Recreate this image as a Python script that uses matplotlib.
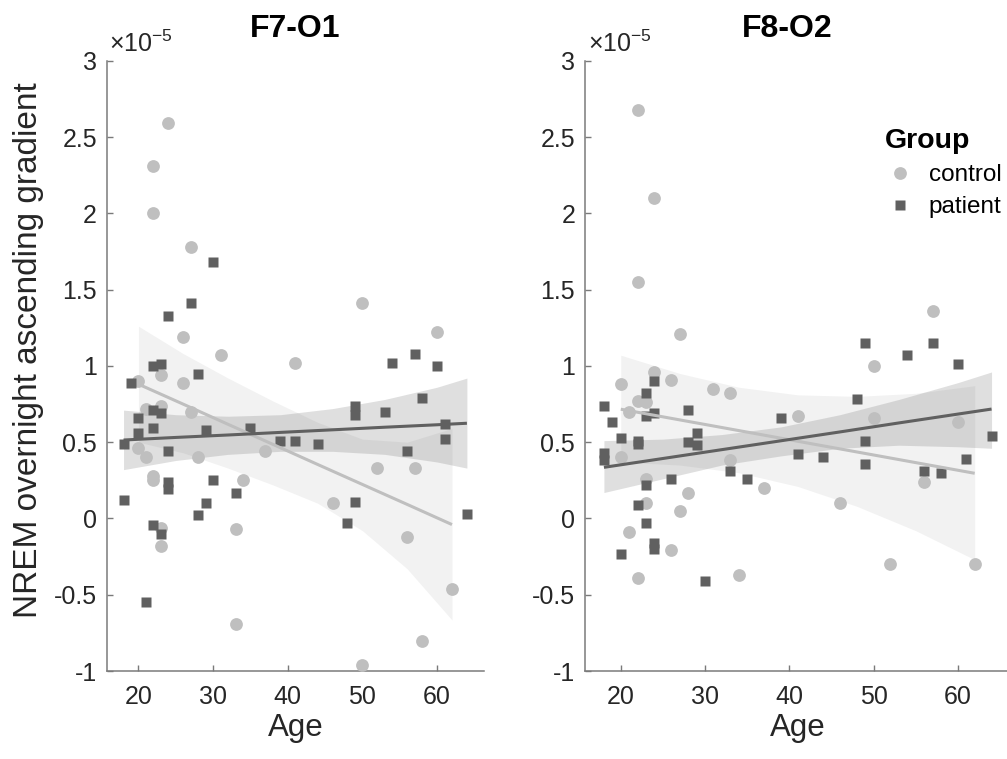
import numpy as np
import matplotlib
matplotlib.use("Agg")
import matplotlib.pyplot as plt
from matplotlib.ticker import FuncFormatter
from matplotlib.lines import Line2D

plt.rcParams['font.family'] = ['Liberation Sans', 'DejaVu Sans']
plt.rcParams['mathtext.fontset'] = 'custom'
plt.rcParams['mathtext.rm'] = 'Liberation Sans'
plt.rcParams['axes.unicode_minus'] = False

# values are in units of 1e-5
# --- F7-O1 ---
f7_ctrl_age = [24, 22, 22, 27, 26, 31, 41, 50, 60, 23, 20, 26, 21, 23, 27, 20, 21, 28,
               37, 52, 57, 22, 22, 34, 46, 56, 33, 23, 23, 62, 33, 58, 50]
f7_ctrl_val = [2.59, 2.31, 2.00, 1.78, 1.19, 1.07, 1.02, 1.41, 1.22, 0.94, 0.90, 0.89, 0.72,
               0.74, 0.70, 0.46, 0.40, 0.40, 0.44, 0.33, 0.33, 0.28, 0.25, 0.25, 0.10, -0.12,
               -0.07, -0.06, -0.18, -0.46, -0.69, -0.80, -0.96]
f7_pat_age = [30, 27, 24, 22, 23, 54, 57, 60, 19, 28, 22, 23, 20, 20, 22, 29, 35, 18, 39, 41,
              44, 49, 49, 53, 58, 61, 61, 56, 24, 24, 24, 30, 33, 29, 28, 18, 49, 48, 64, 22,
              23, 21]
f7_pat_val = [1.68, 1.41, 1.33, 1.00, 1.01, 1.02, 1.08, 1.00, 0.89, 0.95, 0.71, 0.69, 0.66,
              0.56, 0.59, 0.58, 0.59, 0.49, 0.51, 0.51, 0.49, 0.74, 0.68, 0.70, 0.79, 0.62,
              0.52, 0.44, 0.44, 0.24, 0.19, 0.25, 0.17, 0.10, 0.02, 0.12, 0.11, -0.03, 0.03,
              -0.04, -0.10, -0.55]

# fitted lines and confidence bands
f7_ctrl_fit_age = [20, 26, 32, 38, 44, 50, 56, 62]
f7_ctrl_fit_mid = [0.880, 0.749, 0.617, 0.486, 0.354, 0.223, 0.092, -0.040]
f7_ctrl_fit_hi = [1.26, 1.08, 0.92, 0.77, 0.63, 0.52, 0.50, 0.59]
f7_ctrl_fit_lo = [0.50, 0.43, 0.33, 0.22, 0.10, -0.08, -0.33, -0.665]
f7_pat_fit_age = [18, 25, 32, 39, 46, 53, 60, 64]
f7_pat_fit_mid = [0.514, 0.531, 0.547, 0.564, 0.581, 0.598, 0.614, 0.624]
f7_pat_fit_hi = [0.71, 0.68, 0.67, 0.68, 0.72, 0.78, 0.86, 0.92]
f7_pat_fit_lo = [0.32, 0.38, 0.42, 0.44, 0.44, 0.42, 0.37, 0.33]

# --- F8-O2 ---
f8_ctrl_age = [22, 24, 22, 27, 57, 50, 24, 20, 26, 31, 33, 22, 23, 21, 41, 50, 60, 20, 33,
               56, 23, 37, 28, 23, 27, 46, 21, 26, 22, 34, 52, 62]
f8_ctrl_val = [2.68, 2.10, 1.55, 1.21, 1.36, 1.00, 0.96, 0.88, 0.91, 0.85, 0.82, 0.77, 0.76,
               0.70, 0.67, 0.66, 0.63, 0.40, 0.38, 0.24, 0.26, 0.20, 0.17, 0.10, 0.05, 0.10,
               -0.09, -0.21, -0.39, -0.37, -0.30, -0.30]
f8_pat_age = [49, 54, 57, 60, 24, 23, 18, 24, 23, 28, 48, 39, 19, 20, 22, 22, 29, 28, 29, 49,
              64, 18, 18, 33, 41, 44, 49, 61, 56, 58, 23, 26, 35, 22, 23, 24, 24, 20, 30]
f8_pat_val = [1.15, 1.07, 1.15, 1.01, 0.90, 0.82, 0.74, 0.69, 0.67, 0.71, 0.78, 0.66, 0.63,
              0.53, 0.51, 0.49, 0.56, 0.50, 0.48, 0.51, 0.54, 0.43, 0.38, 0.31, 0.42, 0.40,
              0.36, 0.39, 0.31, 0.30, 0.22, 0.26, 0.26, 0.09, -0.03, -0.16, -0.20, -0.23, -0.41]

f8_ctrl_fit_age = [20, 27, 34, 41, 48, 55, 62]
f8_ctrl_fit_mid = [0.716, 0.646, 0.576, 0.506, 0.436, 0.366, 0.296]
f8_ctrl_fit_hi = [1.07, 0.95, 0.86, 0.81, 0.80, 0.82, 0.87]
f8_ctrl_fit_lo = [0.37, 0.35, 0.30, 0.21, 0.08, -0.08, -0.27]
f8_pat_fit_age = [18, 25, 32, 39, 46, 53, 60, 64]
f8_pat_fit_mid = [0.335, 0.393, 0.451, 0.509, 0.567, 0.626, 0.684, 0.717]
f8_pat_fit_hi = [0.51, 0.52, 0.55, 0.60, 0.68, 0.78, 0.89, 0.96]
f8_pat_fit_lo = [0.17, 0.26, 0.35, 0.41, 0.46, 0.48, 0.47, 0.46]

CTRL_COL = '#bfbfbf'
PAT_COL = '#606060'
AXCOL = '#7a7a7a'
TXTCOL = '#262626'

fig = plt.figure(figsize=(10.07, 7.59), dpi=100)
ax1 = fig.add_axes([0.1060, 0.1159, 0.3747, 0.8041])
ax2 = fig.add_axes([0.5809, 0.1159, 0.4230, 0.8041])

panels = [
    (ax1, 'F7-O1', f7_ctrl_age, f7_ctrl_val, f7_pat_age, f7_pat_val,
     (f7_ctrl_fit_age, f7_ctrl_fit_mid, f7_ctrl_fit_lo, f7_ctrl_fit_hi),
     (f7_pat_fit_age, f7_pat_fit_mid, f7_pat_fit_lo, f7_pat_fit_hi)),
    (ax2, 'F8-O2', f8_ctrl_age, f8_ctrl_val, f8_pat_age, f8_pat_val,
     (f8_ctrl_fit_age, f8_ctrl_fit_mid, f8_ctrl_fit_lo, f8_ctrl_fit_hi),
     (f8_pat_fit_age, f8_pat_fit_mid, f8_pat_fit_lo, f8_pat_fit_hi)),
]

for ax, title, ca, cv, pa, pv, cfit, pfit in panels:
    # confidence bands
    ax.fill_between(cfit[0], cfit[2], cfit[3], color=CTRL_COL, alpha=0.2, lw=0, zorder=1)
    ax.fill_between(pfit[0], pfit[2], pfit[3], color=PAT_COL, alpha=0.2, lw=0, zorder=1)
    # points
    ax.plot(ca, cv, 'o', color=CTRL_COL, ms=9.2, mec='none', zorder=3)
    ax.plot(pa, pv, 's', color=PAT_COL, ms=7.6, mec='none', zorder=3)
    # fitted lines
    ax.plot(cfit[0], cfit[1], color=CTRL_COL, lw=2.2, zorder=4, solid_capstyle='butt')
    ax.plot(pfit[0], pfit[1], color=PAT_COL, lw=2.2, zorder=4, solid_capstyle='butt')

    ax.set_xlim(15.75, 66.3)
    ax.set_ylim(-1, 3)
    ax.set_xticks([20, 30, 40, 50, 60])
    ax.set_yticks(np.arange(-1, 3.01, 0.5))
    ax.yaxis.set_major_formatter(FuncFormatter(lambda v, p: f'{v:g}'))
    ax.spines['top'].set_visible(False)
    ax.spines['right'].set_visible(False)
    for s in ['left', 'bottom']:
        ax.spines[s].set_color(AXCOL)
        ax.spines[s].set_linewidth(1.1)
    ax.tick_params(direction='in', length=4.5, width=1.0, color=AXCOL,
                   labelcolor=TXTCOL, labelsize=18)
    ax.tick_params(axis='x', pad=10)
    ax.tick_params(axis='y', pad=7)
    ax.set_xlabel('Age', fontsize=22.5, color=TXTCOL, labelpad=3)
    ax.set_title(title, fontsize=23, fontweight='bold', color='black', pad=17)
    ax.text(0.007, 1.006, r'$\times$10$^{-5}$', transform=ax.transAxes,
            ha='left', va='bottom', fontsize=18, color=TXTCOL)

ax2.title.set_x(0.475)
ax1.set_ylabel('NREM overnight ascending gradient', fontsize=24, color=TXTCOL)
ax1.yaxis.set_label_coords(-0.165, 0.526)

handles = [Line2D([], [], marker='o', ls='none', color=CTRL_COL, ms=9.2, mec='none'),
           Line2D([], [], marker='s', ls='none', color=PAT_COL, ms=7.6, mec='none')]
leg = ax2.legend(handles, ['control', 'patient'], title='Group', loc='upper left',
                 bbox_to_anchor=(0.676, 0.910), frameon=False, fontsize=17.5,
                 title_fontproperties={'weight': 'bold', 'size': 20.5},
                 alignment='left', handletextpad=0.6, labelspacing=0.42,
                 borderpad=0, handlelength=1.2)

fig.savefig('out.png', dpi=100)
